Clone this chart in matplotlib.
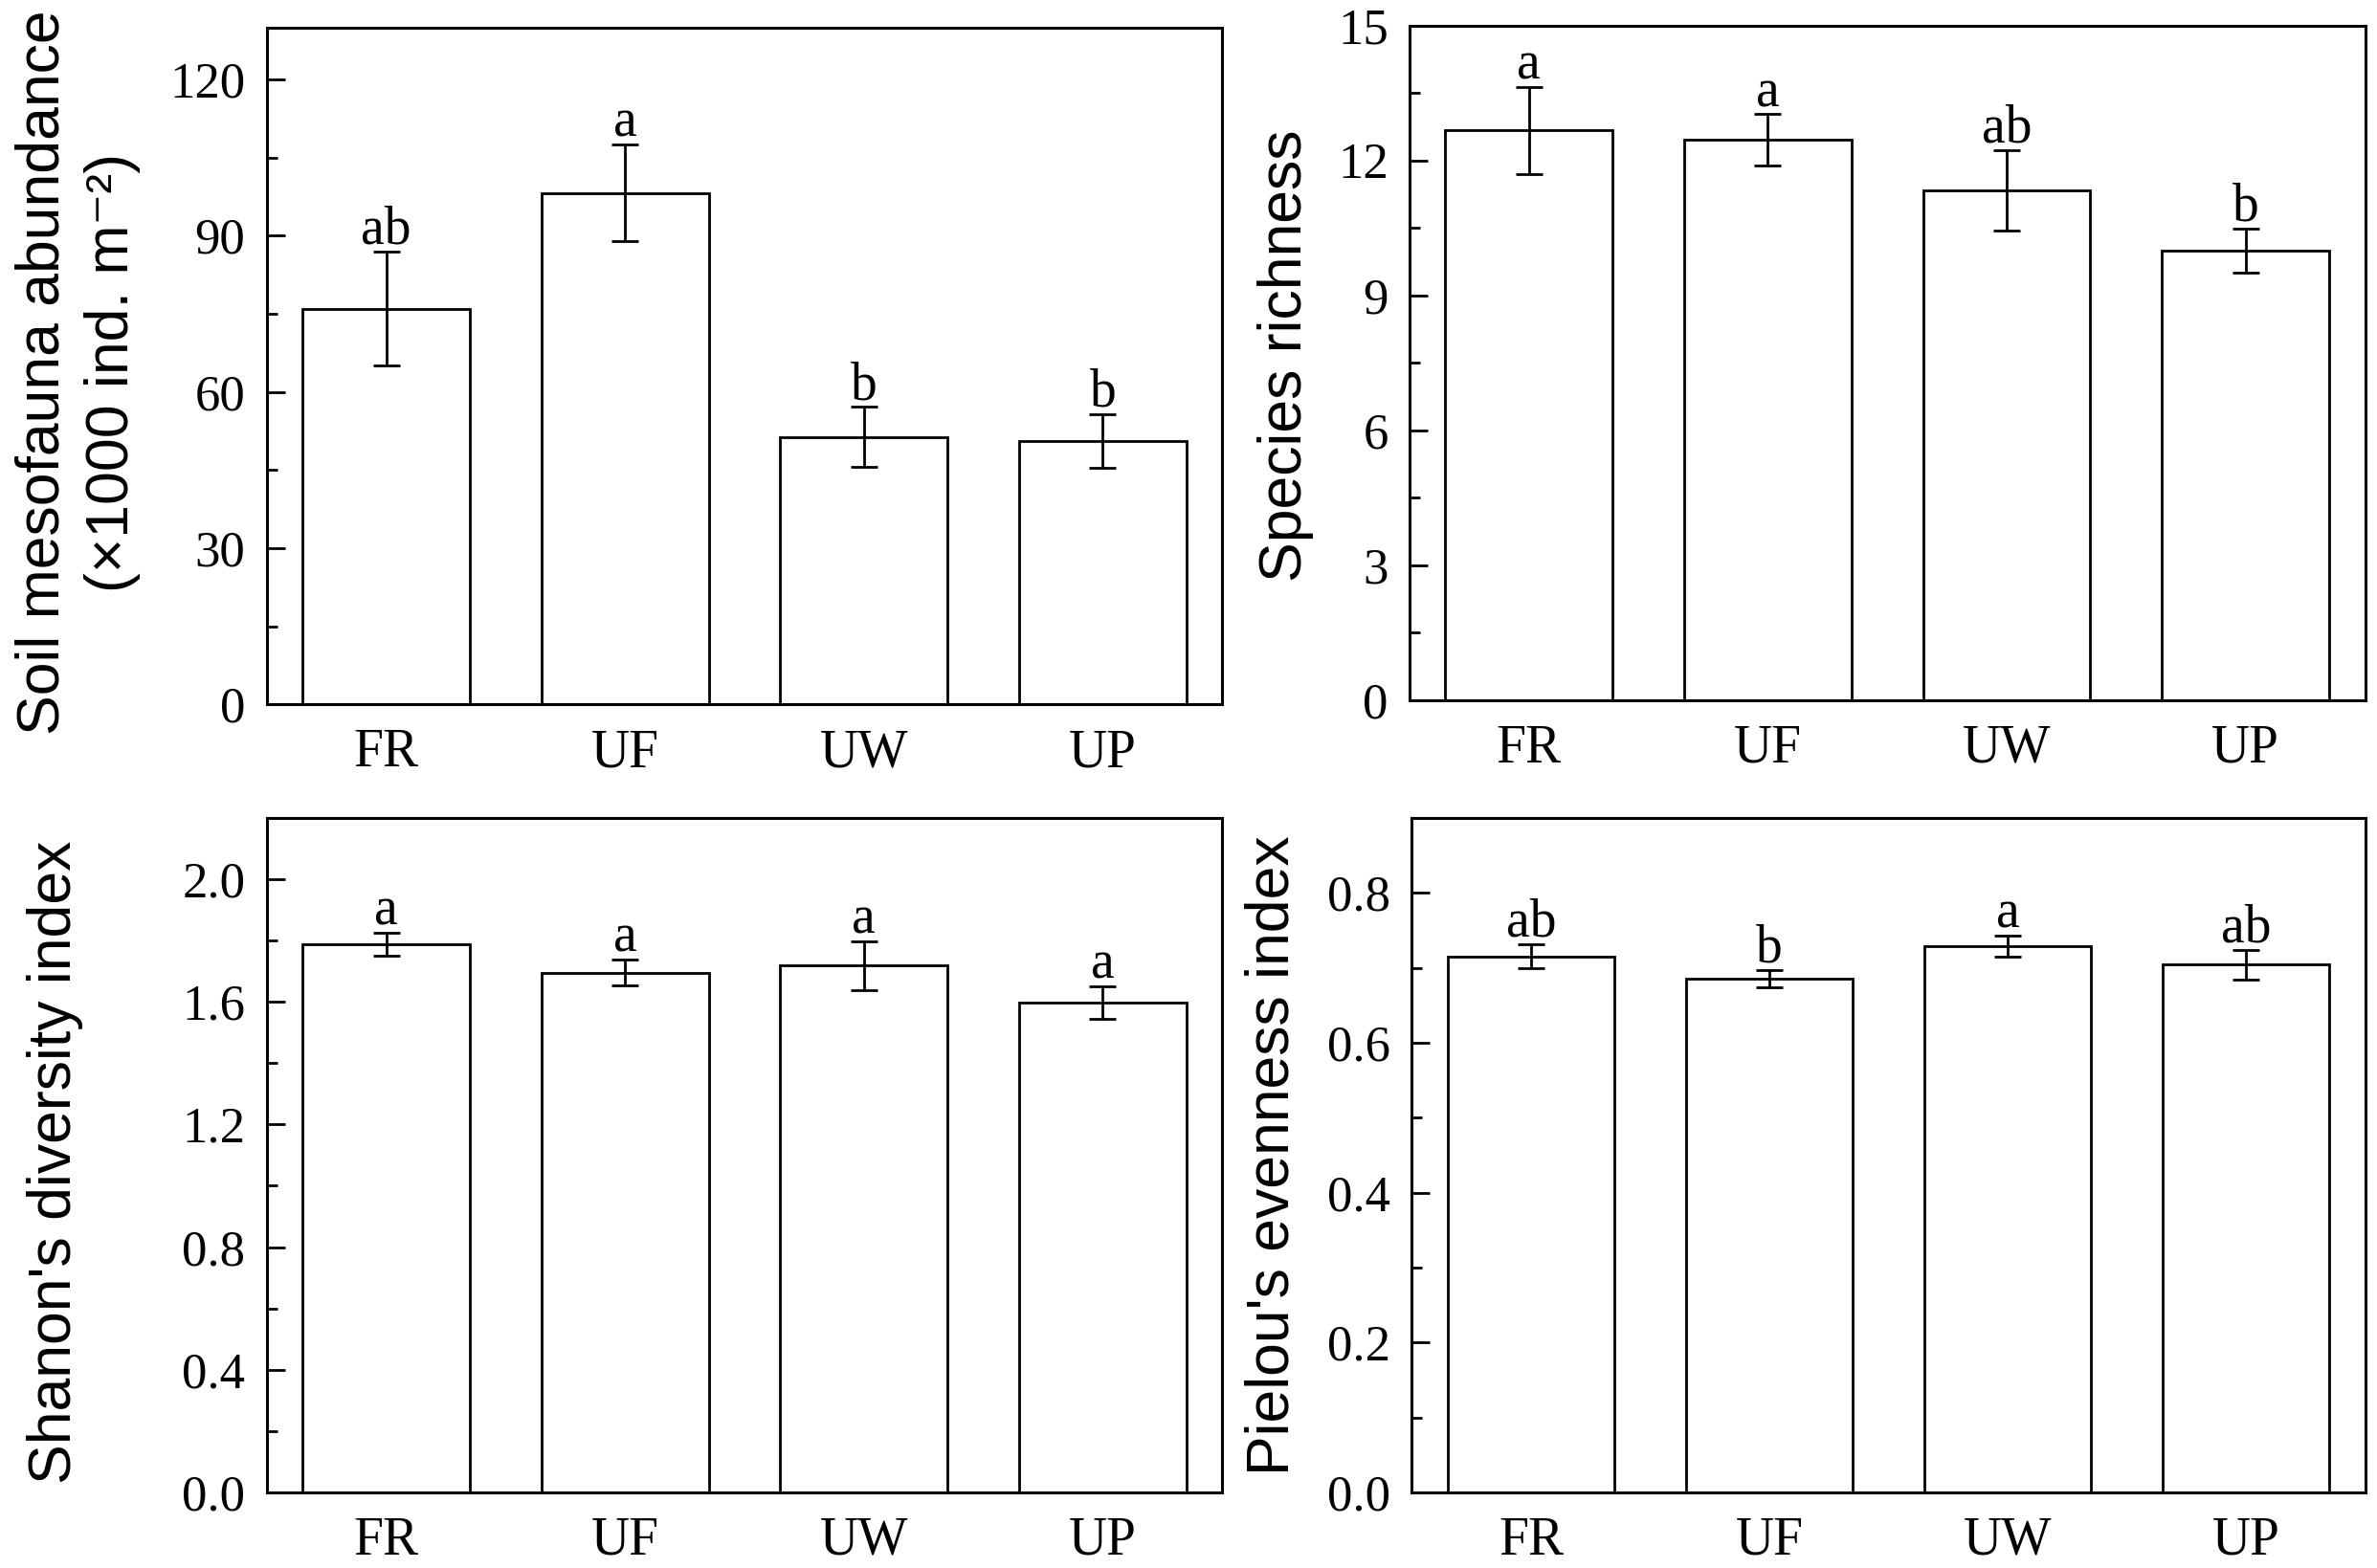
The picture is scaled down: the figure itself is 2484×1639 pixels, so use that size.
import matplotlib
matplotlib.use("Agg")
import matplotlib.pyplot as plt
from matplotlib.ticker import MultipleLocator

categories = ["FR", "UF", "UW", "UP"]

abundance = [76.0, 98.2, 51.4, 50.6]
abundance_err = [11.0, 9.3, 5.7, 5.1]
abundance_letters = ["ab", "a", "b", "b"]

richness = [12.67, 12.46, 11.34, 9.99]
richness_err = [0.97, 0.57, 0.89, 0.49]
richness_letters = ["a", "a", "ab", "b"]

shannon = [1.789, 1.696, 1.719, 1.598]
shannon_err = [0.037, 0.043, 0.080, 0.054]
shannon_letters = ["a", "a", "a", "a"]

pielou = [0.7155, 0.6855, 0.7288, 0.7042]
pielou_err = [0.016, 0.012, 0.014, 0.020]
pielou_letters = ["ab", "b", "a", "ab"]

serif = ["Liberation Serif", "DejaVu Serif"]
sans = ["Liberation Sans", "DejaVu Sans"]

fig = plt.figure(figsize=(12.42, 8.195), dpi=200)

W = 0.402
positions = [
    (0.1122, 0.5507, W, 0.4319),
    (0.5930, 0.5536, W, 0.4300),
    (0.1122, 0.0483, W, 0.4300),
    (0.5940, 0.0483, W - 0.001, 0.4300),
]

panels = [
    (abundance, abundance_err, abundance_letters, (0, 130), 30, 15,
     "Soil mesofauna abundance\n(\u00d71000 ind. m\u207b\u00b2)", (-0.198, 0.49), lambda v: f"{v:.0f}"),
    (richness, richness_err, richness_letters, (0, 15), 3, 1.5,
     "Species richness", (-0.130, 0.51), lambda v: f"{v:.0f}"),
    (shannon, shannon_err, shannon_letters, (0, 2.2), 0.4, 0.2,
     "Shanon's diversity index", (-0.222, 0.49), lambda v: f"{v:.1f}"),
    (pielou, pielou_err, pielou_letters, (0, 0.9), 0.2, 0.1,
     "Pielou's evenness index", (-0.146, 0.50), lambda v: f"{v:.1f}"),
]

x = list(range(len(categories)))

for pos, (vals, errs, letters, ylim, major, minor, ylabel, lc, fmt) in zip(positions, panels):
    ax = fig.add_axes(pos)
    ax.bar(x, vals, width=0.7, color="white", edgecolor="black", linewidth=1.0, zorder=2)
    ax.errorbar(x, vals, yerr=errs, fmt="none", ecolor="black", elinewidth=1.0,
                capsize=5, capthick=1.0, zorder=3)
    for xi, v, e, lab in zip(x, vals, errs, letters):
        ax.annotate(lab, xy=(xi, v + e), xytext=(0, 3), textcoords="offset points",
                    ha="center", va="baseline", fontsize=20, family=serif)
    ax.set_xlim(-0.5, 3.5)
    ax.set_ylim(*ylim)
    ax.set_xticks(x)
    ax.set_xticklabels(categories, family=serif, fontsize=20)
    ax.yaxis.set_major_locator(MultipleLocator(major))
    ax.yaxis.set_minor_locator(MultipleLocator(minor))
    ticks = [t for t in ax.get_yticks() if ylim[0] - 1e-9 <= t <= ylim[1] + 1e-9]
    ax.set_yticks(ticks)
    ax.set_yticklabels([fmt(t) for t in ticks], family=serif, fontsize=19)
    ax.tick_params(axis="y", which="major", direction="in", length=6.8, width=1.0, pad=8)
    ax.tick_params(axis="y", which="minor", direction="in", length=4.0, width=1.0)
    ax.tick_params(axis="x", which="major", direction="in", length=12.5, width=1.0, pad=9)
    ax.tick_params(axis="x", which="minor", bottom=False)
    for s in ax.spines.values():
        s.set_linewidth(1.1)
    ax.set_ylabel(ylabel, family=sans, fontsize=22.5, va="center", ha="center",
                  linespacing=1.3)
    ax.yaxis.set_label_coords(*lc)

fig.savefig("out.png", dpi=200)
